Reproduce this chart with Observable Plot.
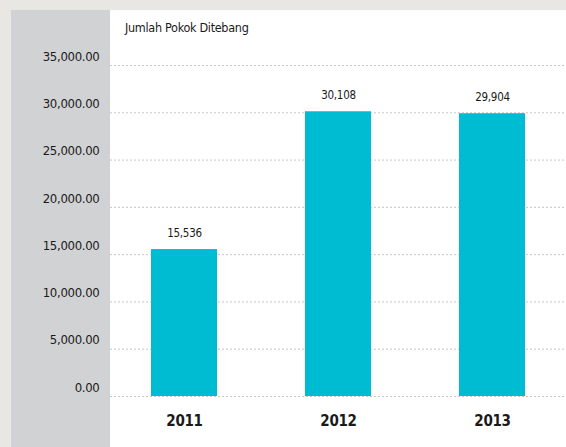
<!DOCTYPE html>
<html>
<head>
<meta charset="utf-8">
<script src="https://cdn.jsdelivr.net/npm/d3@7"></script>
<script src="https://cdn.jsdelivr.net/npm/@observablehq/plot@0.6"></script>
<style>
  html, body { margin: 0; padding: 0; }
  body { width: 566px; height: 447px; background: #e9e7e4; position: relative; overflow: hidden;
         font-family: "DejaVu Sans Condensed", "Liberation Sans Narrow", "Roboto", sans-serif; }
  #grayPanel { position: absolute; left: 11px; top: 10px; width: 99px; height: 437px; background: #d1d2d4; }
  #whitePanel { position: absolute; left: 110px; top: 10px; width: 456px; height: 437px; background: #ffffff; }
  #title { position: absolute; left: 125px; top: 20px; font-size: 12.5px; letter-spacing: -0.3px; color: #1a1a1a; }
  #chart { position: absolute; left: 0; top: 0; }
  #chart svg text { letter-spacing: -0.3px; }
</style>
</head>
<body>
<div id="grayPanel"></div>
<div id="whitePanel"></div>
<div id="title">Jumlah Pokok Ditebang</div>
<div id="chart"></div>
<script>
const years = ["2011", "2012", "2013"];
const values = [15536, 30108, 29904];
const yTicks = [0, 5000, 10000, 15000, 20000, 25000, 30000, 35000];

const data = years.map((y, i) => ({year: y, value: values[i]}));
const fmtTick = d3.format(",.2f");
const fmtVal = d3.format(",");

const chart = Plot.plot({
  width: 566,
  height: 447,
  marginLeft: 110,
  marginRight: 0,
  marginTop: 65,
  marginBottom: 51,
  style: {background: "transparent", fontFamily: "'DejaVu Sans Condensed', 'Liberation Sans Narrow', sans-serif", color: "#1a1a1a"},
  x: {domain: years, paddingInner: 0.57, paddingOuter: 0.265, label: null},
  y: {domain: [0, 35000], label: null},
  marks: [
    Plot.ruleY(yTicks, {stroke: "#c6c6c6", strokeDasharray: "2,2", strokeWidth: 1}),
    Plot.barY(data, {x: "year", y: "value", fill: "#00bcd2"}),
    Plot.text(data, {x: "year", y: "value", text: d => fmtVal(d.value), dy: -16, fontSize: 11.5, fill: "#1a1a1a"}),
    Plot.axisY({ticks: yTicks, tickFormat: fmtTick, tickSize: 0, tickPadding: 11, dy: -9, fontSize: 13, label: null}),
    Plot.axisX({tickSize: 0, tickPadding: 19, fontSize: 15, fontWeight: "bold", label: null})
  ]
});
document.getElementById("chart").appendChild(chart);
</script>
</body>
</html>
